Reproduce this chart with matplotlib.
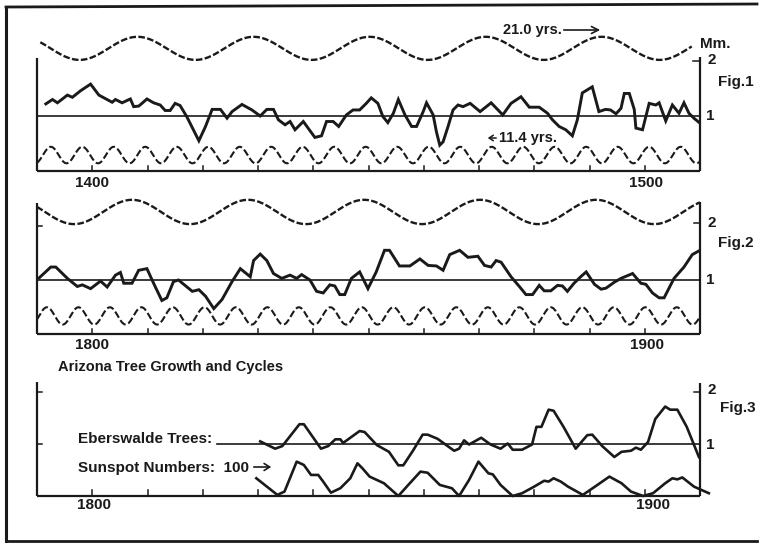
import numpy as np
import matplotlib
matplotlib.use("Agg")
import matplotlib.pyplot as plt
from matplotlib.lines import Line2D
from matplotlib.patches import FancyArrowPatch

# ------------------------------------------------------------------ data
# Fig.1 : Arizona tree growth 1390-1510 (Mm.)
fig1_years = [1391.6, 1392.8, 1393.7, 1395.5, 1396.4, 1397.9, 1399.7, 1401.2, 1403.6, 1404.2,
              1405.4, 1406.9, 1407.5, 1408.4, 1409.0, 1409.9, 1411.1, 1412.3, 1413.2, 1414.1,
              1415.0, 1415.9, 1417.1, 1419.3, 1420.5, 1421.7, 1423.2, 1424.4, 1425.3, 1427.1,
              1428.9, 1430.4, 1431.6, 1432.8, 1433.7, 1434.9, 1435.8, 1436.7, 1438.2, 1440.3,
              1441.5, 1442.4, 1443.6, 1444.6, 1446.0, 1447.2, 1448.4, 1449.6, 1450.5, 1451.7,
              1452.6, 1453.5, 1454.5, 1455.4, 1456.6, 1457.8, 1458.7, 1459.9, 1460.5, 1461.7,
              1462.3, 1462.9, 1463.5, 1464.4, 1465.3, 1466.2, 1467.1, 1468.4, 1470.2, 1472.2,
              1474.3, 1475.8, 1477.6, 1479.1, 1480.9, 1482.4, 1483.3, 1484.5, 1485.7, 1486.9,
              1487.8, 1488.7, 1490.5, 1491.7, 1492.9, 1493.8, 1494.8, 1495.7, 1496.3, 1497.2,
              1498.1, 1498.4, 1499.6, 1500.8, 1502.0, 1502.6, 1503.8, 1505.0, 1506.2, 1507.1,
              1508.0, 1508.9, 1510.0]
fig1_growth = [1.22, 1.30, 1.24, 1.38, 1.34, 1.46, 1.58, 1.38, 1.25, 1.30,
               1.24, 1.31, 1.17, 1.18, 1.23, 1.31, 1.24, 1.20, 1.10, 1.10,
               1.23, 1.19, 0.99, 0.55, 0.81, 1.12, 1.12, 0.96, 1.08, 1.21,
               1.11, 1.00, 1.12, 1.12, 0.93, 0.84, 0.90, 0.75, 0.90, 0.61,
               0.64, 0.90, 0.90, 0.81, 1.02, 1.11, 1.11, 1.23, 1.33, 1.23,
               0.99, 0.88, 1.05, 1.30, 1.02, 0.81, 0.81, 1.08, 1.24, 1.02,
               0.71, 0.47, 0.53, 0.81, 1.11, 1.20, 1.17, 1.23, 1.08, 1.24,
               1.02, 1.23, 1.35, 1.16, 1.16, 1.05, 0.93, 0.81, 0.75, 0.64,
               0.93, 1.42, 1.53, 1.08, 1.12, 1.11, 1.04, 1.14, 1.41, 1.41,
               1.12, 0.78, 0.75, 1.23, 1.20, 1.24, 0.91, 1.20, 1.05, 1.24,
               1.05, 0.96, 0.87]

# Fig.2 : Arizona tree growth 1790-1910 (Mm.)
fig2_years = [1790.4, 1792.5, 1793.4, 1795.5, 1797.3, 1798.2, 1799.7, 1801.5, 1802.7, 1804.2,
              1805.1, 1805.7, 1807.2, 1808.4, 1809.9, 1811.1, 1812.6, 1813.5, 1814.7, 1815.6,
              1817.4, 1818.1, 1819.3, 1820.5, 1822.0, 1823.5, 1825.3, 1826.8, 1828.6, 1829.2,
              1830.4, 1831.6, 1832.8, 1834.3, 1835.8, 1837.0, 1837.9, 1839.4, 1840.6, 1841.8,
              1843.0, 1843.9, 1844.8, 1845.7, 1846.9, 1848.4, 1849.9, 1851.4, 1852.9, 1853.8,
              1855.6, 1857.5, 1859.3, 1860.8, 1862.3, 1863.5, 1864.7, 1866.5, 1868.0, 1869.8,
              1871.0, 1872.2, 1873.1, 1874.0, 1875.8, 1877.3, 1878.5, 1879.7, 1880.9, 1881.8,
              1883.0, 1884.2, 1885.1, 1886.0, 1887.2, 1888.4, 1889.4, 1890.9, 1892.1, 1893.0,
              1894.5, 1895.7, 1897.8, 1899.3, 1900.2, 1901.4, 1902.6, 1903.5, 1904.4, 1905.3,
              1907.1, 1908.6, 1910.0]
fig2_growth = [1.04, 1.24, 1.24, 1.03, 0.88, 0.91, 0.84, 0.98, 0.87, 1.09,
               1.14, 0.94, 0.94, 1.18, 1.21, 0.94, 0.62, 0.67, 0.97, 1.00,
               0.85, 0.79, 0.82, 0.70, 0.47, 0.64, 0.97, 1.21, 1.06, 1.36,
               1.48, 1.36, 1.12, 1.03, 1.09, 1.03, 1.10, 1.00, 0.79, 0.76,
               0.91, 0.89, 0.73, 0.73, 1.03, 1.15, 0.84, 1.15, 1.55, 1.55,
               1.26, 1.26, 1.39, 1.27, 1.26, 1.18, 1.47, 1.55, 1.42, 1.44,
               1.27, 1.24, 1.36, 1.33, 1.06, 0.88, 0.73, 0.73, 0.90, 0.80,
               0.80, 0.90, 0.89, 0.79, 0.94, 1.06, 1.15, 0.92, 0.83, 0.85,
               0.96, 1.03, 1.12, 0.94, 0.92, 0.76, 0.67, 0.67, 0.85, 1.03,
               1.24, 1.47, 1.55]

# Fig.3 : Eberswalde trees (Mm.) and sunspot numbers
eber_years = [1830.4, 1833.1, 1834.4, 1837.5, 1838.3, 1841.4, 1842.7, 1844.0, 1844.9, 1845.4,
              1848.4, 1849.3, 1851.5, 1853.7, 1855.4, 1856.3, 1858.1, 1859.8, 1860.7, 1862.5,
              1865.5, 1866.4, 1867.3, 1868.2, 1870.4, 1872.1, 1873.9, 1875.2, 1876.1, 1877.8,
              1879.6, 1880.4, 1881.3, 1882.6, 1883.5, 1885.3, 1887.5, 1889.6, 1890.5, 1892.3,
              1894.5, 1895.8, 1897.5, 1898.4, 1899.3, 1900.6, 1901.9, 1903.7, 1904.6, 1905.9,
              1907.6, 1909.8]
eber_growth = [1.05, 0.91, 0.96, 1.38, 1.38, 0.91, 0.96, 1.09, 1.09, 1.02,
               1.25, 1.23, 0.98, 0.85, 0.59, 0.59, 0.88, 1.18, 1.18, 1.10,
               0.87, 0.91, 1.07, 0.99, 1.12, 0.99, 0.91, 1.01, 0.89, 0.89,
               0.99, 1.33, 1.33, 1.66, 1.64, 1.33, 0.91, 1.17, 1.18, 0.96,
               0.75, 0.85, 0.87, 0.93, 0.89, 1.04, 1.48, 1.72, 1.66, 1.66,
               1.33, 0.75]

sunspot_years = [1829.7, 1833.5, 1834.8, 1837.0, 1838.3, 1839.6, 1840.9, 1841.8, 1843.2, 1844.9,
                 1846.7, 1848.0, 1848.9, 1850.2, 1852.8, 1855.4, 1857.2, 1859.4, 1860.7, 1862.9,
                 1865.1, 1866.4, 1868.2, 1869.9, 1871.7, 1872.5, 1873.9, 1876.1, 1877.8, 1880.0,
                 1881.8, 1882.6, 1883.5, 1884.8, 1886.1, 1888.8, 1891.0, 1893.6, 1895.8, 1897.5,
                 1899.7, 1901.5, 1903.7, 1905.0, 1905.9, 1906.8, 1908.9, 1911.6]
sunspot_numbers = [64, 4, 16, 124, 112, 76, 76, 52, 12, 28,
                   64, 118, 100, 70, 46, 0, 40, 88, 84, 40,
                   28, 0, 58, 124, 82, 78, 40, 0, 10, 34,
                   55, 52, 64, 52, 34, 4, 34, 70, 46, 16,
                   0, 10, 46, 64, 60, 67, 34, 10]

# Cycle curves: [21.0-yr cycle, 11.4-yr cycle drawn at half period]
cycle_periods = [21.0, 5.7]
fig1_cycle_peak_years = [1408.2, 1398.2]
fig1_cycle_means = [2.23, 0.29]
fig1_cycle_amplitudes = [0.21, 0.15]
fig2_cycle_peak_years = [1807.2, 1797.5]
fig2_cycle_means = [2.26, 0.335]
fig2_cycle_amplitudes = [0.225, 0.16]

fig1_range = [1390, 1510]
fig2_range = [1790, 1910]
decade_ticks1 = list(range(1400, 1510, 10))
decade_ticks2 = list(range(1800, 1910, 10))

# ------------------------------------------------------------------ style
W, H = 763, 549
plt.rcParams['font.family'] = ['Liberation Sans', 'DejaVu Sans']
INK = '#1a1a1a'

fig = plt.figure(figsize=(W / 100, H / 100), dpi=100)
fig.patch.set_facecolor('white')


def fx(px):
    return px / W


def fy(py):
    return 1 - py / H


def ftext(x, y, s, ha='left', va='center', size=11, weight='bold'):
    fig.text(fx(x), fy(y), s, ha=ha, va=va, fontsize=size,
             fontweight=weight, color=INK)


def make_panel(left, right, top, one, bottom, xr):
    ax = fig.add_axes([fx(left), fy(bottom), fx(right - left), (bottom - top) / H])
    ax.set_xlim(xr)
    ax.set_ylim(0, (bottom - top) / (bottom - one))
    ax.axis('off')
    return ax


def cycle(ax, xr, period, peak, mean, amp, lw, dashes):
    t = np.linspace(xr[0], xr[1], 800)
    y = mean + amp * np.cos(2 * np.pi * (t - peak) / period)
    ax.plot(t, y, color=INK, lw=lw, dashes=dashes, clip_on=False,
            dash_capstyle='butt')


def frame(ax, xr, ytop_l, ytop_r, ticks, tick_h=0.1):
    kw = dict(color=INK, lw=1.6, clip_on=False, solid_capstyle='butt')
    ax.plot([xr[0], xr[0]], [0, ytop_l], **kw)
    ax.plot([xr[1], xr[1]], [0, ytop_r], **kw)
    ax.plot([xr[0], xr[1]], [0, 0], **kw)
    for t in ticks:
        ax.plot([t, t], [0, tick_h], color=INK, lw=1.1, clip_on=False)


TOP_DASH = (2.8, 1.0)
LOW_DASH = (3.4, 1.4)

# ---------------------------------------------------------- panel 1
ax1 = make_panel(37, 700, 18, 116, 171, fig1_range)
frame(ax1, fig1_range, 2.06, 2.08, decade_ticks1)
ax1.axhline(1, color=INK, lw=1.2)
ax1.plot([fig1_range[1] - 1.2, fig1_range[1]], [2, 2], color=INK, lw=1.1, clip_on=False)
ax1.plot(fig1_years, fig1_growth, color=INK, lw=2.1, solid_joinstyle='miter')
cycle(ax1, [1390.6, 1508.5], cycle_periods[0], fig1_cycle_peak_years[0],
      fig1_cycle_means[0], fig1_cycle_amplitudes[0], 1.7, TOP_DASH)
cycle(ax1, fig1_range, cycle_periods[1], fig1_cycle_peak_years[1],
      fig1_cycle_means[1], fig1_cycle_amplitudes[1], 1.5, LOW_DASH)

# ---------------------------------------------------------- panel 2
ax2 = make_panel(37, 700, 190, 280, 334, fig2_range)
frame(ax2, fig2_range, 2.42, 2.44, decade_ticks2)
ax2.axhline(1, color=INK, lw=1.2)
ax2.plot([fig2_range[0], fig2_range[0] + 0.9], [2, 2], color=INK, lw=1.1, clip_on=False)
ax2.plot([fig2_range[1] - 1.0, fig2_range[1]], [2.05, 2.05], color=INK, lw=1.1, clip_on=False)
ax2.plot(fig2_years, fig2_growth, color=INK, lw=2.1, solid_joinstyle='miter')
cycle(ax2, fig2_range, cycle_periods[0], fig2_cycle_peak_years[0],
      fig2_cycle_means[0], fig2_cycle_amplitudes[0], 1.7, TOP_DASH)
cycle(ax2, fig2_range, cycle_periods[1], fig2_cycle_peak_years[1],
      fig2_cycle_means[1], fig2_cycle_amplitudes[1], 1.5, LOW_DASH)

# ---------------------------------------------------------- panel 3
ax3 = make_panel(37, 700, 378, 444, 496, fig2_range)
frame(ax3, fig2_range, 2.2, 2.18, decade_ticks2, tick_h=0.12)
for lev in (1, 2):
    ax3.plot([fig2_range[0], fig2_range[0] + 0.9], [lev, lev], color=INK, lw=1.1, clip_on=False)
ax3.plot([fig2_range[1] - 1.0, fig2_range[1]], [2, 2], color=INK, lw=1.1, clip_on=False)
ax3.plot([1822.6, 1910], [1, 1], color=INK, lw=1.2)
ax3.plot(eber_years, eber_growth, color=INK, lw=1.9, clip_on=False)
ax3s = ax3.twinx()
ax3s.set_ylim(0, (496 - 378) / (496 - 468.3) * 100)
ax3s.axis('off')
ax3s.plot(sunspot_years, sunspot_numbers, color=INK, lw=1.9, clip_on=False)

# ---------------------------------------------------------- texts
ftext(503, 30, '21.0 yrs.', size=10.5)
fig.add_artist(FancyArrowPatch(
    (fx(561), fy(30)), (fx(603), fy(30)), transform=fig.transFigure,
    arrowstyle='->,head_length=5,head_width=2.5', color=INK, lw=1.2))
ftext(700, 44, 'Mm.', size=11)
ftext(708, 60, '2', size=11)
ftext(718, 82, 'Fig.1', size=11)
ftext(706, 116, '1', size=11)
fig.add_artist(FancyArrowPatch(
    (fx(499), fy(138)), (fx(485), fy(138)), transform=fig.transFigure,
    arrowstyle='->,head_length=3,head_width=2', color=INK, lw=1.1))
ftext(499, 138, '11.4 yrs.', size=10.5)
ftext(92, 183, '1400', ha='center', size=11)
ftext(646, 183, '1500', ha='center', size=11)

ftext(708, 223, '2', size=11)
ftext(718, 243, 'Fig.2', size=11)
ftext(706, 280, '1', size=11)
ftext(92, 345, '1800', ha='center', size=11)
ftext(647, 345, '1900', ha='center', size=11)

ftext(58, 367, 'Arizona Tree Growth and Cycles', size=10.5)

ftext(708, 390, '2', size=11)
ftext(720, 408, 'Fig.3', size=11)
ftext(706, 445, '1', size=11)
ftext(78, 439, 'Eberswalde Trees:', size=11)
ftext(78, 468, 'Sunspot Numbers:  100', size=11)
fig.add_artist(FancyArrowPatch(
    (fx(251), fy(467)), (fx(274), fy(467)), transform=fig.transFigure,
    arrowstyle='->,head_length=4,head_width=2.5', color=INK, lw=1.2))
ftext(94, 505, '1800', ha='center', size=11)
ftext(653, 505, '1900', ha='center', size=11)

# ---------------------------------------------------------- outer frame
for xs, ys, lw in [([6, 6], [9, 541], 2.2),
                   ([6, 757], [7, 4], 2.0),
                   ([6, 757], [541, 541], 2.0)]:
    fig.add_artist(Line2D([fx(x) for x in xs], [fy(y) for y in ys],
                          transform=fig.transFigure, color=INK, lw=lw))

fig.savefig('out.png', dpi=100, facecolor='white')
